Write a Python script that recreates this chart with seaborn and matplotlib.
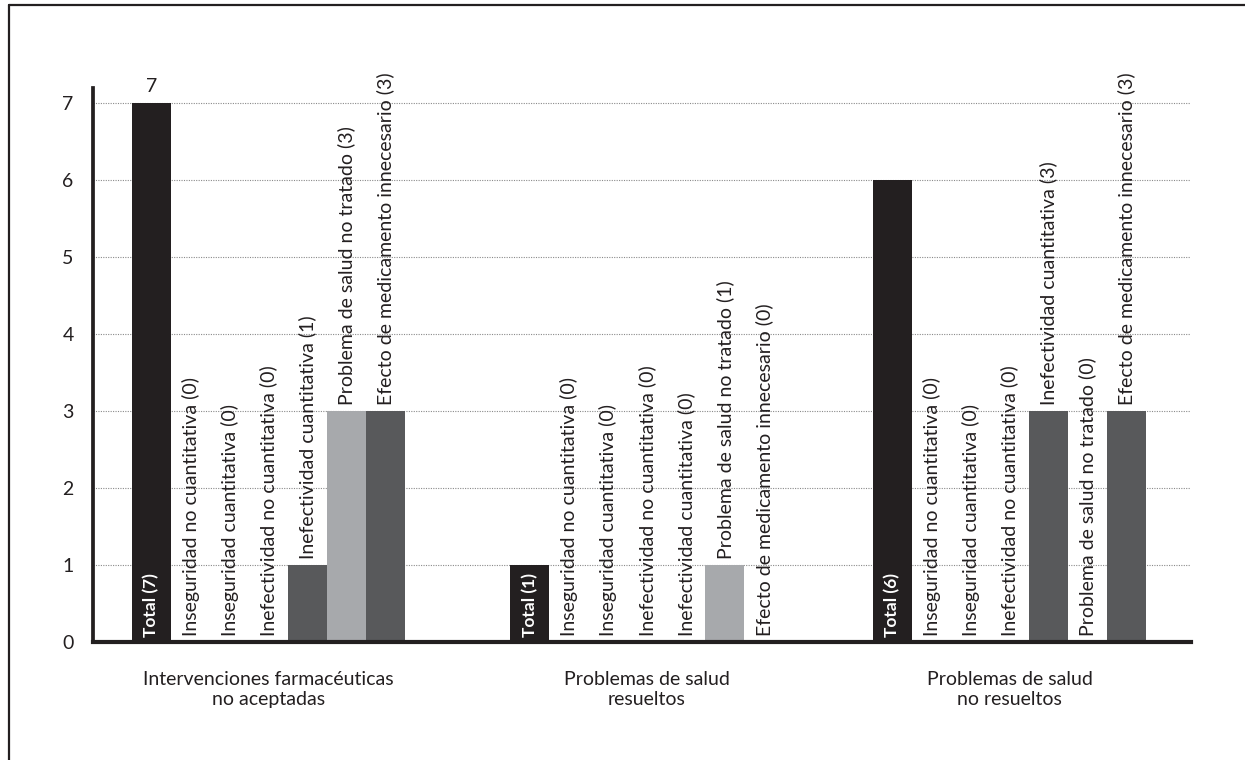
import matplotlib
matplotlib.use("Agg")
import matplotlib.pyplot as plt
from matplotlib.lines import Line2D
import numpy as np
import pandas as pd
import seaborn as sns

# --- data -------------------------------------------------------------
groups = [
    "Intervenciones farmacéuticas\nno aceptadas",
    "Problemas de salud\nresueltos",
    "Problemas de salud\nno resueltos",
]
categories = [
    "Total",
    "Inseguridad no cuantitativa",
    "Inseguridad cuantitativa",
    "Inefectividad no cuantitativa",
    "Inefectividad cuantitativa",
    "Problema de salud no tratado",
    "Efecto de medicamento innecesario",
]
values_intervenciones = [7, 0, 0, 0, 1, 3, 3]
values_resueltos = [1, 0, 0, 0, 0, 1, 0]
values_no_resueltos = [6, 0, 0, 0, 3, 0, 3]
y_ticks = [0, 1, 2, 3, 4, 5, 6, 7]

# --- styling ----------------------------------------------------------
BLACK = "#231f20"
DARK = "#58595b"
LIGHT = "#a7a9ac"
palette = dict(zip(categories, [BLACK, DARK, LIGHT, DARK, DARK, LIGHT, DARK]))

sns.set_style("white")
plt.rcParams["font.family"] = ["Lato", "DejaVu Sans"]
FS = 14

# left edge of each group of bars along the x axis (one unit per bar)
group_starts = [1.0, 10.7, 20.0]

rows = []
for g, start, vals in zip(groups, group_starts,
                          [values_intervenciones, values_resueltos, values_no_resueltos]):
    for i, (cat, v) in enumerate(zip(categories, vals)):
        rows.append({"grupo": g, "categoria": cat, "valor": v,
                     "pos": round(start + 0.5 + i, 3)})
df = pd.DataFrame(rows)

fig = plt.figure(figsize=(12.45, 7.6), dpi=100)
ax = fig.add_axes([93 / 1245, 1 - 642 / 760, (1191 - 93) / 1245, 7.2 * 77 / 760])

sns.barplot(data=df, x="pos", y="valor", hue="categoria", palette=palette,
            native_scale=True, dodge=False, width=1.0, saturation=1,
            errorbar=None, legend=False, linewidth=0, ax=ax)

ax.set_xlim(0, 28.15)
ax.set_ylim(0, 7.2)

# dotted horizontal guides
for t in y_ticks[1:]:
    ax.axhline(t, color="#8a8a8a", linestyle=(0, (1, 1.2)), linewidth=0.8, zorder=0)

ax.set_yticks(y_ticks)
ax.set_yticklabels([str(t) for t in y_ticks], fontsize=FS, color=BLACK)
ax.tick_params(axis="y", length=0, pad=14)

centers = [s + len(categories) / 2 for s in group_starts]
ax.set_xticks(centers)
ax.set_xticklabels(groups, fontsize=FS, color=BLACK, linespacing=1.2)
ax.tick_params(axis="x", length=0, pad=21)
ax.set_xlabel("")
ax.set_ylabel("")

for side in ["top", "right"]:
    ax.spines[side].set_visible(False)
ax.spines["left"].set_linewidth(2.7)
ax.spines["left"].set_color(BLACK)
ax.spines["bottom"].set_linewidth(3.0)
ax.spines["bottom"].set_color(BLACK)
ax.spines["bottom"].set_zorder(5)

# rotated labels on each bar
for _, r in df.iterrows():
    if r["categoria"] == "Total":
        ax.text(r["pos"], 0.06, f"Total ({r['valor']})", rotation=90,
                ha="center", va="bottom", color="white", fontsize=12.5,
                fontweight="bold", zorder=6)
    else:
        ax.text(r["pos"], r["valor"] + 0.08, f"{r['categoria']} ({r['valor']})",
                rotation=90, ha="center", va="bottom", color=BLACK,
                fontsize=FS, zorder=6)

# value above the tallest total
first = df.iloc[0]
ax.text(first["pos"], first["valor"] + 0.1, str(first["valor"]),
        ha="center", va="bottom", fontsize=FS, color=BLACK)

# page frame (left and top edges)
fig.add_artist(Line2D([9 / 1245, 9 / 1245], [0, 1 - 5 / 760],
                      transform=fig.transFigure, color=BLACK, linewidth=1.6))
fig.add_artist(Line2D([9 / 1245, 1], [1 - 5 / 760, 1 - 5 / 760],
                      transform=fig.transFigure, color=BLACK, linewidth=1.6))

fig.savefig("out.png", dpi=100)
